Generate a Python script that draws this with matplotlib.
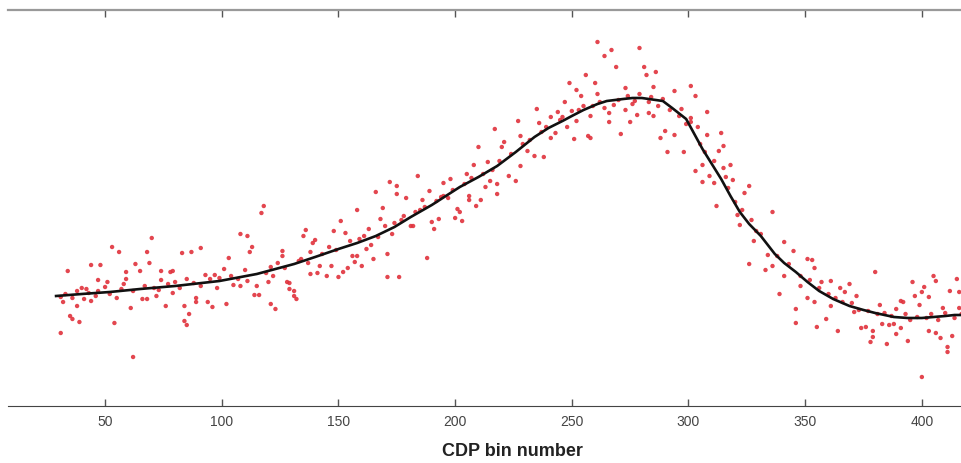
import numpy as np
import matplotlib.pyplot as plt

# smoothed trend (black line)
curve_bins = [29, 40, 52, 65, 80, 99, 115, 131, 140, 150, 158, 166, 174, 181, 190, 202,
              210, 218, 226, 234, 240, 246, 250, 255, 261, 265, 272, 276, 280, 286, 289,
              293, 299, 306, 310, 314, 318, 322, 326, 331, 337, 341, 346, 351, 356, 362,
              369, 375, 380, 384, 388, 394, 400, 405, 410, 414, 418]
curve_amp = [110, 112, 114, 117, 120, 125, 132, 142, 149, 157, 163, 170, 179, 189, 201, 219,
             229, 240, 254, 269, 278, 285, 290, 296, 302, 305, 307, 308, 308, 306, 305,
             298, 287, 257, 242, 227, 210, 194, 182, 170, 152, 143, 134, 124, 115, 107,
             100, 96, 93, 91, 89, 88, 88, 89, 90, 91, 91]

# scattered samples (red dots)
pt_bins = [70, 53, 56, 68, 34, 44, 48, 63, 65, 69, 74, 78, 59, 59, 47, 51, 74, 38, 42, 47,
           31, 32, 41, 44, 66, 68, 72, 76, 61, 38, 35, 36, 39, 54, 31, 62, 52, 57, 71, 79,
           118, 117, 108, 111, 113, 112, 91, 87, 83, 103, 126, 126, 124, 121, 101, 79, 93, 97, 99, 111,
           105, 108, 115, 120, 128, 129, 80, 91, 114, 116, 131, 89, 89, 94, 96, 102, 121, 123, 84, 86,
           84, 85,
           172, 175, 166, 175, 179, 169, 158, 168, 151, 178, 181, 136, 148, 153, 163, 135, 173, 167, 140, 139,
           164, 162, 138, 171, 156, 158, 134, 165, 157, 160, 142, 147, 154, 152, 141, 138, 145, 150, 171, 176,
           129, 131, 132,
           227, 217, 228, 221, 220, 210, 231, 214, 208, 228, 184, 205, 223, 226, 198, 195, 215, 218, 213, 189,
           195, 197, 206, 218, 186, 206, 211, 209, 187, 201, 202, 200, 203, 193, 190, 182, 191, 188,
           261, 267, 279, 264, 269, 281, 282, 256, 249, 260, 273, 252, 254, 261, 279, 247, 268, 276, 235, 244,
           250, 264, 266, 273, 283, 241, 246, 258, 278, 252, 236, 266, 275, 248, 243, 271, 241, 251, 257, 258,
           234, 238,
           286, 285, 301, 294, 303, 289, 283, 297, 308, 285, 301, 301, 304, 290, 294, 308, 314, 288, 315, 291,
           298, 313, 318, 306, 303, 315, 309, 316, 319, 306, 311, 326, 324, 312, 321, 322, 336, 329, 328, 334,
           326, 333,
           341, 345, 351, 353, 336, 354, 380, 341, 357, 361, 369, 348, 365, 367, 339, 372, 351, 354, 382, 361,
           346, 371, 359, 383, 346, 355, 364, 374, 376, 379, 386, 379, 378, 385,
           405, 406, 415, 396, 401, 400, 412, 416, 397, 403, 391, 392, 399, 389, 409, 416, 388, 391, 403, 406,
           408, 389, 413, 394, 411, 411, 400,
           # samples lying close to the trend
           33, 36, 40, 43, 46, 50, 55, 58, 62, 67, 73, 77, 82, 85, 88, 95, 98, 104, 107, 110,
           119, 122, 127, 133, 137, 143, 146, 149, 155, 159, 161, 170, 174, 177, 183, 185, 192, 194, 199, 204,
           207, 212, 216, 219, 224, 229, 232, 237, 239, 245, 253, 255, 259, 262, 270, 274, 277, 284, 287, 292,
           296, 299, 305, 307, 311, 317, 320, 323, 327, 331, 338, 343, 348, 352, 356, 360, 363, 366, 370, 373,
           377, 381, 384, 387, 393, 395, 398, 402, 404, 407, 410, 414, 417]
pt_amp = [168, 159, 154, 154, 135, 141, 141, 142, 135, 143, 135, 134, 134, 127, 126, 124, 126, 115, 117, 115,
          109, 104, 107, 105, 107, 107, 110, 100, 98, 100, 90, 87, 84, 83, 73, 49, 112, 117, 118, 113,
          200, 193, 172, 170, 159, 154, 158, 154, 153, 148, 155, 150, 143, 139, 137, 135, 131, 131, 128, 125,
          121, 120, 120, 124, 124, 117, 124, 120, 111, 111, 110, 108, 104, 104, 99, 102, 102, 97, 100, 92,
          85, 81,
          224, 220, 214, 212, 208, 198, 196, 187, 185, 190, 180, 176, 175, 173, 177, 170, 172, 169, 166, 163,
          161, 157, 154, 152, 150, 150, 147, 147, 144, 140, 140, 140, 138, 134, 133, 132, 130, 129, 129, 129,
          123, 115, 107,
          285, 277, 270, 264, 259, 259, 255, 244, 241, 240, 230, 232, 230, 225, 227, 223, 225, 222, 219, 215,
          210, 208, 210, 212, 206, 206, 206, 200, 199, 197, 194, 188, 185, 187, 184, 180, 177, 148,
          364, 356, 358, 350, 339, 339, 331, 331, 323, 323, 318, 316, 310, 312, 312, 304, 301, 302, 297, 294,
          295, 298, 293, 296, 293, 289, 289, 290, 291, 285, 283, 284, 284, 279, 273, 272, 268, 267, 270, 268,
          250, 249,
          334, 319, 320, 315, 310, 307, 304, 297, 294, 290, 288, 284, 279, 275, 271, 271, 273, 268, 260, 254,
          254, 255, 241, 241, 235, 238, 230, 229, 226, 224, 223, 220, 213, 200, 191, 181, 194, 175, 165, 151,
          142, 136,
          164, 155, 147, 146, 140, 138, 134, 130, 124, 125, 122, 120, 118, 114, 112, 110, 108, 104, 101, 100,
          97, 94, 87, 82, 83, 79, 75, 78, 79, 75, 81, 69, 64, 62,
          130, 125, 127, 124, 119, 114, 115, 114, 110, 109, 105, 104, 101, 97, 98, 98, 82, 78, 75, 73,
          68, 72, 70, 65, 59, 54, 29,
          112, 108, 118, 113, 110, 119, 108, 122, 115, 120, 116, 122, 118, 127, 123, 127, 118, 130, 127, 136,
          133, 130, 138, 145, 143, 152, 159, 156, 165, 167, 170, 180, 183, 186, 194, 196, 205, 209, 216, 222,
          228, 232, 236, 245, 252, 262, 266, 274, 279, 286, 296, 300, 300, 304, 306, 310, 305, 309, 300, 296,
          290, 282, 262, 254, 245, 218, 204, 196, 186, 172, 150, 142, 130, 126, 118, 112, 108, 104, 103, 96,
          95, 92, 93, 90, 92, 86, 89, 88, 92, 86, 93, 88, 92]

xticks = [50, 100, 150, 200, 250, 300, 350, 400]

fig = plt.figure(figsize=(9.62, 4.64), dpi=100)
ax = fig.add_axes([8 / 962, 1 - 407 / 464, 1 - 8 / 962, (407 - 11) / 464])

ax.scatter(pt_bins, pt_amp, s=10, color='#e0323c', edgecolors='none', alpha=0.9, zorder=2)
ax.plot(curve_bins, curve_amp, color='#111111', lw=1.9, zorder=3)

ax.set_xlim(8.4, 417.2)
ax.set_ylim(0, 396)
ax.set_xticks(xticks)
ax.set_yticks([])
ax.tick_params(axis='x', direction='in', top=True, bottom=True, length=5, width=1,
               color='#555555', labelsize=10, labelcolor='#444444', pad=6)
for lab in ax.get_xticklabels():
    lab.set_family('Liberation Sans')

ax.spines['left'].set_visible(False)
ax.spines['right'].set_visible(False)
ax.spines['bottom'].set_color('#444444')
ax.spines['top'].set_color('#999999')
ax.spines['top'].set_linewidth(1.6)

ax.set_xlabel('CDP bin number', fontsize=13, fontweight='bold', family='Liberation Sans',
              color='#222222')
ax.xaxis.set_label_coords((512 - 8) / 954, -0.09)

fig.savefig('out.png', dpi=100)
